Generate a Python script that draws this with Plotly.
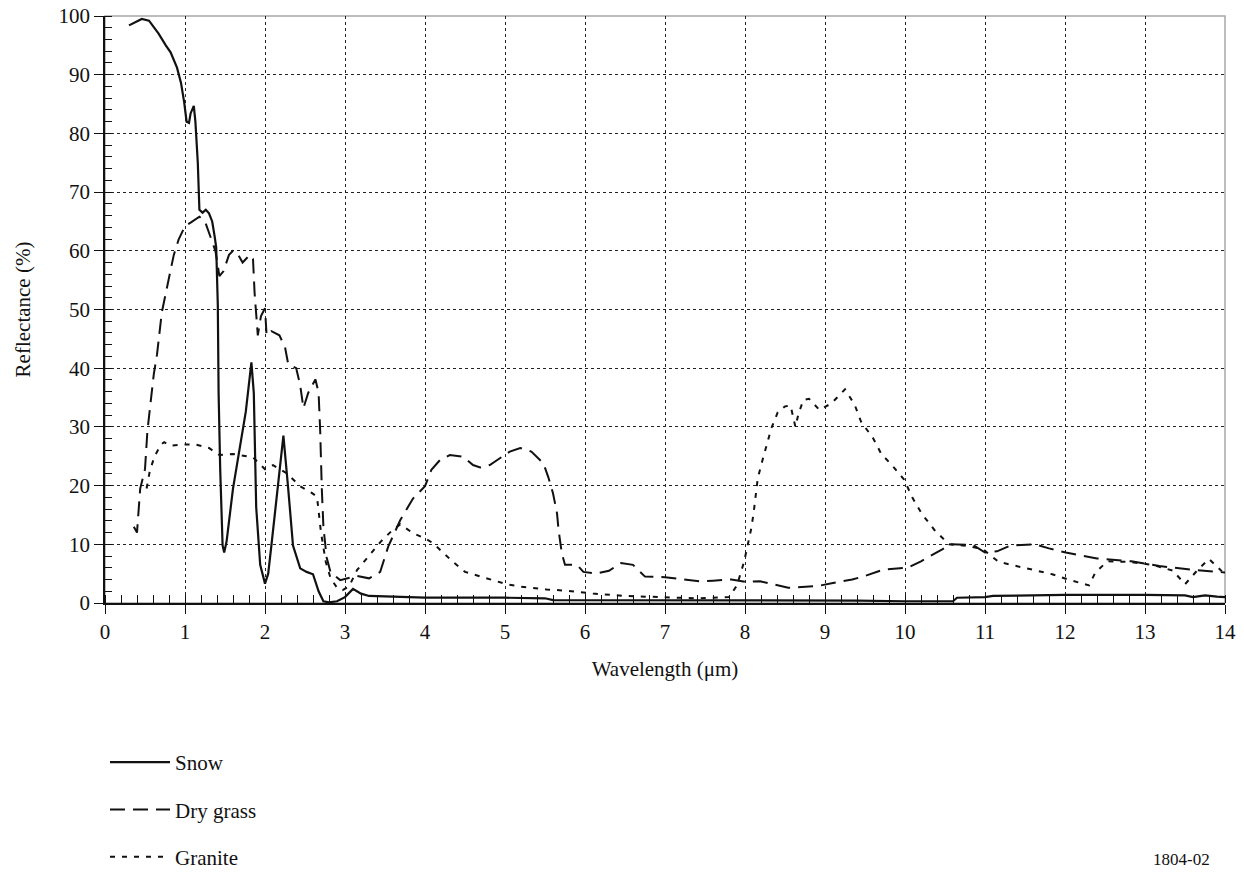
import plotly.graph_objects as go

# ---- data ----
snow_x = [0.30, 0.38, 0.46, 0.55, 0.67, 0.76, 0.82, 0.90, 0.95, 0.99, 1.02, 1.05, 1.07, 1.11, 1.13,
          1.16, 1.18, 1.22, 1.26, 1.30, 1.34, 1.37, 1.39, 1.41, 1.42, 1.44, 1.47, 1.49, 1.52, 1.60,
          1.70, 1.76, 1.83, 1.86, 1.89, 1.94, 2.00, 2.04, 2.08, 2.16, 2.23, 2.29, 2.35, 2.44, 2.52,
          2.60, 2.67, 2.73, 2.80, 2.90, 3.00, 3.10, 3.20, 3.30, 3.60, 4.00, 5.00, 5.50, 5.60, 7.00,
          8.00, 9.00, 9.40, 10.00, 10.60, 10.65, 11.00, 11.10, 11.50, 12.00, 13.00, 13.50, 13.60,
          13.75, 13.90, 14.00]
snow_y = [98.4, 99.0, 99.5, 99.2, 97.0, 95.0, 93.8, 91.2, 88.6, 85.3, 82.0, 81.8, 83.4, 84.7, 82.0,
          75.0, 67.0, 66.5, 67.0, 66.4, 65.0, 62.5, 60.6, 50.8, 35.8, 22.8, 9.8, 8.6, 10.5, 19.5,
          28.0, 32.6, 41.0, 35.8, 16.3, 6.5, 3.3, 5.0, 9.8, 19.5, 28.5, 19.5, 9.8, 5.9, 5.3,
          4.9, 2.0, 0.3, 0.1, 0.3, 1.0, 2.4, 1.6, 1.2, 1.1, 0.9, 0.9, 0.8, 0.5, 0.5,
          0.5, 0.5, 0.4, 0.3, 0.3, 0.9, 1.0, 1.2, 1.3, 1.4, 1.4, 1.3, 1.0,
          1.3, 1.1, 1.0]

grass_x = [0.36, 0.40, 0.44, 0.50, 0.53, 0.57, 0.61, 0.65, 0.71, 0.80, 0.86, 0.92, 1.00, 1.07, 1.18,
           1.25, 1.32, 1.38, 1.43, 1.48, 1.55, 1.60, 1.64, 1.72, 1.81, 1.85, 1.87, 1.91, 1.95, 2.00,
           2.02, 2.08, 2.18, 2.25, 2.29, 2.39, 2.44, 2.48, 2.54, 2.63, 2.67, 2.69, 2.71, 2.73, 2.77,
           2.82, 2.94, 3.05, 3.15, 3.30, 3.44, 3.54, 3.69, 3.85, 4.00, 4.08, 4.19, 4.31, 4.48, 4.60,
           4.69, 4.81, 4.94, 5.06, 5.19, 5.33, 5.48, 5.54, 5.60, 5.65, 5.67, 5.71, 5.75, 5.90, 5.98,
           6.14, 6.30, 6.45, 6.60, 6.75, 7.00, 7.30, 7.44, 7.60, 7.83, 8.00, 8.19, 8.54, 8.91, 9.10,
           9.34, 9.50, 9.73, 10.03, 10.20, 10.46, 10.57, 10.85, 11.00, 11.15, 11.32, 11.63, 11.80,
           12.01, 12.40, 12.83, 13.18, 13.57, 13.91, 14.00]
grass_y = [13.0, 12.0, 19.5, 22.8, 29.3, 34.5, 39.0, 42.3, 49.5, 55.4, 59.3, 61.9, 64.2, 64.8, 65.8,
           65.0, 62.5, 60.0, 55.7, 56.5, 59.3, 60.0, 59.9, 58.0, 59.3, 58.6, 52.8, 45.6, 48.9, 50.2,
           45.6, 46.3, 45.6, 43.6, 40.7, 40.0, 37.1, 33.2, 35.8, 38.1, 35.8, 29.3, 19.5, 13.0, 7.8,
           5.2, 3.9, 4.3, 4.6, 4.2, 5.3, 9.6, 14.1, 17.8, 19.9, 22.7, 24.4, 25.2, 24.9, 23.5,
           23.1, 23.5, 24.7, 25.8, 26.4, 25.8, 23.8, 21.5, 18.7, 15.3, 12.4, 8.5, 6.5, 6.5, 5.3,
           5.0, 5.5, 6.8, 6.5, 4.5, 4.4, 4.0, 3.7, 3.8, 4.0, 3.6, 3.7, 2.6, 2.9, 3.4,
           4.0, 4.6, 5.7, 6.0, 7.1, 9.1, 10.0, 9.9, 8.6, 8.8, 9.8, 10.0, 9.3,
           8.6, 7.6, 7.1, 6.3, 5.7, 5.3, 5.2]

granite_x = [0.52, 0.56, 0.62, 0.70, 0.74, 0.82, 0.97, 1.13, 1.30, 1.43, 1.60, 1.85, 2.00, 2.10, 2.27,
             2.44, 2.58, 2.65, 2.70, 2.76, 2.82, 2.90, 2.97, 3.05, 3.15, 3.30, 3.45, 3.60, 3.69, 3.85,
             4.00, 4.10, 4.35, 4.50, 4.69, 4.85, 5.02, 5.19, 5.52, 5.77, 5.90, 6.10, 6.50, 7.00, 7.40,
             7.80, 7.90, 7.99, 8.04, 8.08, 8.11, 8.14, 8.16, 8.22, 8.27, 8.33, 8.41, 8.50, 8.57, 8.63,
             8.67, 8.73, 8.80, 8.93, 9.08, 9.25, 9.37, 9.45, 9.60, 9.70, 9.86, 9.99, 10.09, 10.21,
             10.37, 10.55, 10.80, 10.98, 11.17, 11.39, 11.60, 11.84, 12.04, 12.25, 12.30, 12.38,
             12.53, 12.80, 13.10, 13.35, 13.50, 13.65, 13.80, 13.96]
granite_y = [19.5, 22.5, 25.0, 27.0, 27.4, 26.8, 27.0, 27.0, 26.4, 25.2, 25.4, 24.8, 22.8, 23.5, 22.1,
             19.9, 18.8, 18.1, 12.0, 7.0, 4.2, 2.6, 2.2, 2.8, 5.6, 8.0, 10.5, 12.5, 13.4, 11.9,
             11.0, 10.2, 7.0, 5.3, 4.5, 3.9, 3.2, 2.8, 2.3, 2.1, 1.9, 1.6, 1.2, 1.0, 0.8,
             1.0, 3.0, 7.1, 10.0, 12.8, 15.6, 18.5, 21.3, 24.4, 27.0, 29.8, 32.5, 33.5, 33.6, 30.0,
             32.3, 34.6, 34.8, 32.9, 34.0, 36.4, 33.8, 30.9, 28.1, 25.5, 23.1, 21.0, 18.0, 15.2,
             12.4, 10.0, 9.7, 9.1, 7.0, 6.3, 5.7, 4.9, 4.0, 3.2, 3.0, 5.2,
             7.1, 7.0, 6.5, 5.5, 3.2, 5.5, 7.5, 5.4]

series_names = ["Snow", "Dry grass", "Granite"]
x_ticks = list(range(0, 15))
y_ticks = list(range(0, 101, 10))

FONT = "Liberation Serif"
INK = "#111111"

fig = go.Figure()
fig.add_trace(go.Scatter(x=snow_x, y=snow_y, mode="lines", name=series_names[0], legendgroup="a",
                         line=dict(color=INK, width=2.2, dash="solid")))
fig.add_trace(go.Scatter(x=grass_x, y=grass_y, mode="lines", name=series_names[1], legendgroup="b",
                         line=dict(color=INK, width=2, dash="15px,8px")))
fig.add_trace(go.Scatter(x=granite_x, y=granite_y, mode="lines", name=series_names[2], legendgroup="c",
                         line=dict(color=INK, width=2, dash="5px,7px")))

axis_common = dict(
    showline=True, linecolor=INK, linewidth=1.5,
    ticks="outside", ticklen=9, tickwidth=1.3, tickcolor=INK,
    showgrid=True, gridcolor="#222222", gridwidth=1, griddash="dot",
    zeroline=False, mirror=False,
    tickfont=dict(family=FONT, size=21, color=INK),
    title_font=dict(family=FONT, size=21, color=INK),
)

fig.update_xaxes(
    range=[0, 14], tickvals=x_ticks,
    minor=dict(ticks="inside", dtick=0.2, ticklen=8, tickwidth=1.2, tickcolor=INK, showgrid=False),
    title_text="Wavelength (\u03bcm)", title_standoff=18,
    **axis_common,
)
fig.update_yaxes(
    range=[0, 100], tickvals=y_ticks,
    minor=dict(ticks="inside", dtick=2, ticklen=7, tickwidth=1.2, tickcolor=INK, showgrid=False),
    title_text="Reflectance (%)", title_standoff=22,
    **axis_common,
)

# light grey frame on top/right
fig.add_shape(type="rect", xref="paper", yref="paper", x0=0, y0=0, x1=1, y1=1,
              line=dict(color="#a8a8a8", width=1.5), layer="below")

fig.add_annotation(text="1804-02", xref="paper", yref="paper", x=(1181 - 105) / 1120,
                   y=(603 - 848) / 587, xanchor="center", yanchor="top", showarrow=False,
                   font=dict(family=FONT, size=17, color=INK))

fig.update_layout(
    width=1244, height=873,
    margin=dict(l=105, r=19, t=16, b=270, autoexpand=False),
    paper_bgcolor="white", plot_bgcolor="white",
    showlegend=True,
    legend=dict(
        x=0.0, y=(603 - 742) / 587, xanchor="left", yanchor="top",
        orientation="v", itemwidth=60, tracegroupgap=17,
        font=dict(family=FONT, size=21, color=INK),
        bgcolor="rgba(0,0,0,0)", itemclick=False, itemdoubleclick=False,
    ),
)

fig.write_html("out.html", config={"displayModeBar": False},
               post_script="document.body.style.margin='0';document.body.style.padding='0';")
